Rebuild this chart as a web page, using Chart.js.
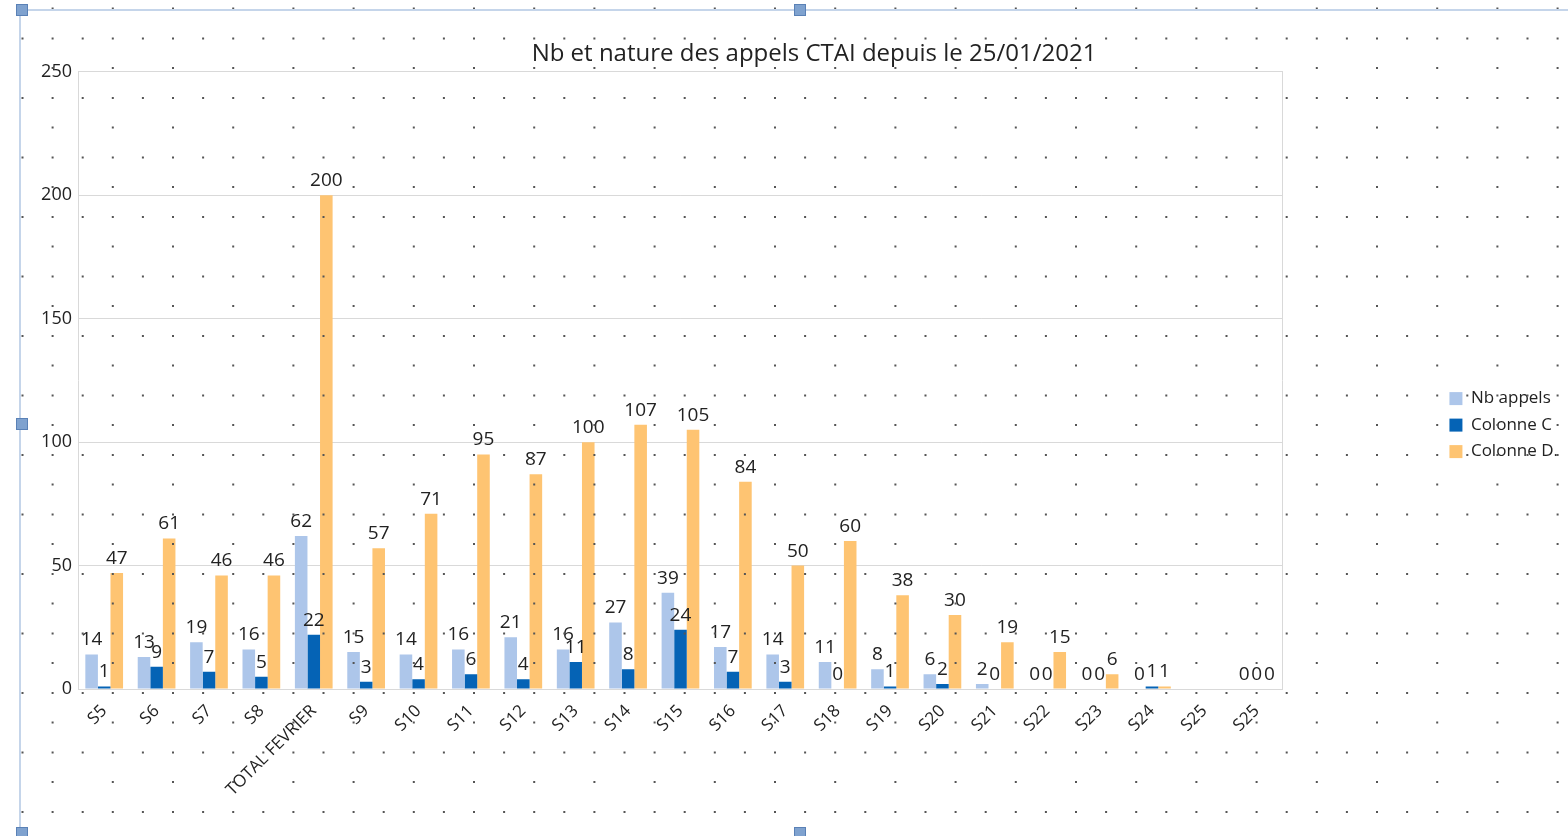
<!DOCTYPE html>
<html>
<head>
<meta charset="utf-8">
<title>Nb et nature des appels CTAI</title>
<script src="https://cdn.jsdelivr.net/npm/chart.js"></script>
<style>
  html, body { margin:0; padding:0; background:#fff; }
  #chart_div { display:block; }
</style>
</head>
<body>
<canvas id="chart_div" width="1568" height="836"></canvas>
<script>
var titre = "Nb et nature des appels CTAI depuis le 25/01/2021";
var semaines = ["S5","S6","S7","S8","TOTAL FEVRIER","S9","S10","S11","S12","S13","S14","S15","S16","S17","S18","S19","S20","S21","S22","S23","S24","S25","S25"];
var nbAppels = [14,13,19,16,62,15,14,16,21,16,27,39,17,14,11,8,6,2,0,0,0,null,0];
var colonneC = [1,9,7,5,22,3,4,6,4,11,8,24,7,3,0,1,2,0,0,0,1,null,0];
var colonneD = [47,61,46,46,200,57,71,95,87,100,107,105,84,50,60,38,30,19,15,6,1,null,0];

var police = "'Open Sans', sans-serif";
var texte = '#222';
var gris = '#d9d9d9';

// valeurs au-dessus des barres
var etiquettes = {
  id: 'etiquettes',
  afterDatasetsDraw: function(chart){
    var ctx = chart.ctx;
    ctx.save();
    ctx.font = '19px ' + police;
    ctx.fillStyle = texte;
    ctx.textAlign = 'center';
    ctx.textBaseline = 'bottom';
    chart.data.datasets.forEach(function(ds, i){
      var meta = chart.getDatasetMeta(i);
      meta.data.forEach(function(bar, j){
        var v = ds.data[j];
        if(v === null || v === undefined){ return; }
        ctx.fillText(String(v), bar.x, bar.y - 5);
      });
    });
    ctx.restore();
  }
};

// le titre est centré sur l'objet graphique, un peu à droite du centre du canvas
var decalageTitre = {
  id: 'decalageTitre',
  afterLayout: function(chart){
    if(chart.titleBlock){
      chart.titleBlock.left += 20;
      chart.titleBlock.right += 20;
    }
  }
};

// quadrillage en pointillés de la feuille + cadre de sélection
var feuille = {
  id: 'feuille',
  afterDraw: function(chart){
    var ctx = chart.ctx, w = chart.width, h = chart.height;
    ctx.save();
    ctx.fillStyle = '#555';
    for(var n = 0; 8.5 + 59.5*n < h; n++){
      var yDemi = 8.5 + 59.5*n, yPlein = 38.5 + 59.5*n;
      for(var k = 0; 22.5 + 30.1*k < w; k++){
        var x = 22.5 + 30.1*k;
        if(k % 2 == 1){ ctx.fillRect(x - 1, yDemi - 1, 2, 2); }
        if(yPlein < h){ ctx.fillRect(x - 1, yPlein - 1, 2, 2); }
      }
    }
    ctx.strokeStyle = '#c5d5ea';
    ctx.lineWidth = 2;
    ctx.beginPath();
    ctx.moveTo(20, 10); ctx.lineTo(20, h);
    ctx.moveTo(20, 10); ctx.lineTo(w, 10);
    ctx.stroke();
    ctx.fillStyle = '#7fa2cf';
    ctx.strokeStyle = '#5a81b6';
    ctx.lineWidth = 1;
    [[22,10],[800,10],[22,424],[22,833],[800,833]].forEach(function(p){
      ctx.fillRect(p[0]-6, p[1]-6, 12, 12);
      ctx.strokeRect(p[0]-5.5, p[1]-5.5, 11, 11);
    });
    ctx.restore();
  }
};

var ctx = document.getElementById('chart_div').getContext('2d');
var chart = new Chart(ctx, {
  type: 'bar',
  data: {
    labels: semaines,
    datasets: [
      { label: 'Nb appels', data: nbAppels, backgroundColor: '#adc6ea' },
      { label: 'Colonne C', data: colonneC, backgroundColor: '#0563b5' },
      { label: 'Colonne D.', data: colonneD, backgroundColor: '#fec472' }
    ]
  },
  options: {
    responsive: false,
    animation: false,
    devicePixelRatio: 1,
    categoryPercentage: 0.72,
    barPercentage: 1.0,
    layout: { padding: { left: 20, right: 0, top: 0, bottom: 32 } },
    plugins: {
      title: {
        display: true, text: titre, color: texte,
        font: { family: police, size: 24, weight: 'normal' },
        padding: { top: 40, bottom: 3 }
      },
      legend: {
        position: 'right',
        title: { display: true, text: ' ', font: { size: 1 }, padding: { top: 45, bottom: 0 } },
        labels: { boxWidth: 13, boxHeight: 13, padding: 9.5, color: texte, font: { family: police, size: 17 } }
      },
      tooltip: { enabled: false }
    },
    scales: {
      x: {
        grid: { display: false },
        border: { color: gris },
        ticks: { autoSkip: false, minRotation: 45, maxRotation: 45, color: texte, padding: 4, font: { family: police, size: 17 } }
      },
      y: {
        min: 0, max: 250,
        ticks: { stepSize: 50, color: texte, padding: 6, font: { family: police, size: 18 } },
        grid: { color: gris, drawTicks: false },
        border: { color: gris },
        afterFit: function(s){ s.width = 58; }
      },
      y2: {
        position: 'right',
        ticks: { display: false },
        grid: { display: false, drawTicks: false },
        border: { display: true, color: gris },
        afterFit: function(s){ s.width = 157; }
      }
    }
  },
  plugins: [etiquettes, decalageTitre, feuille]
});
</script>
</body>
</html>
